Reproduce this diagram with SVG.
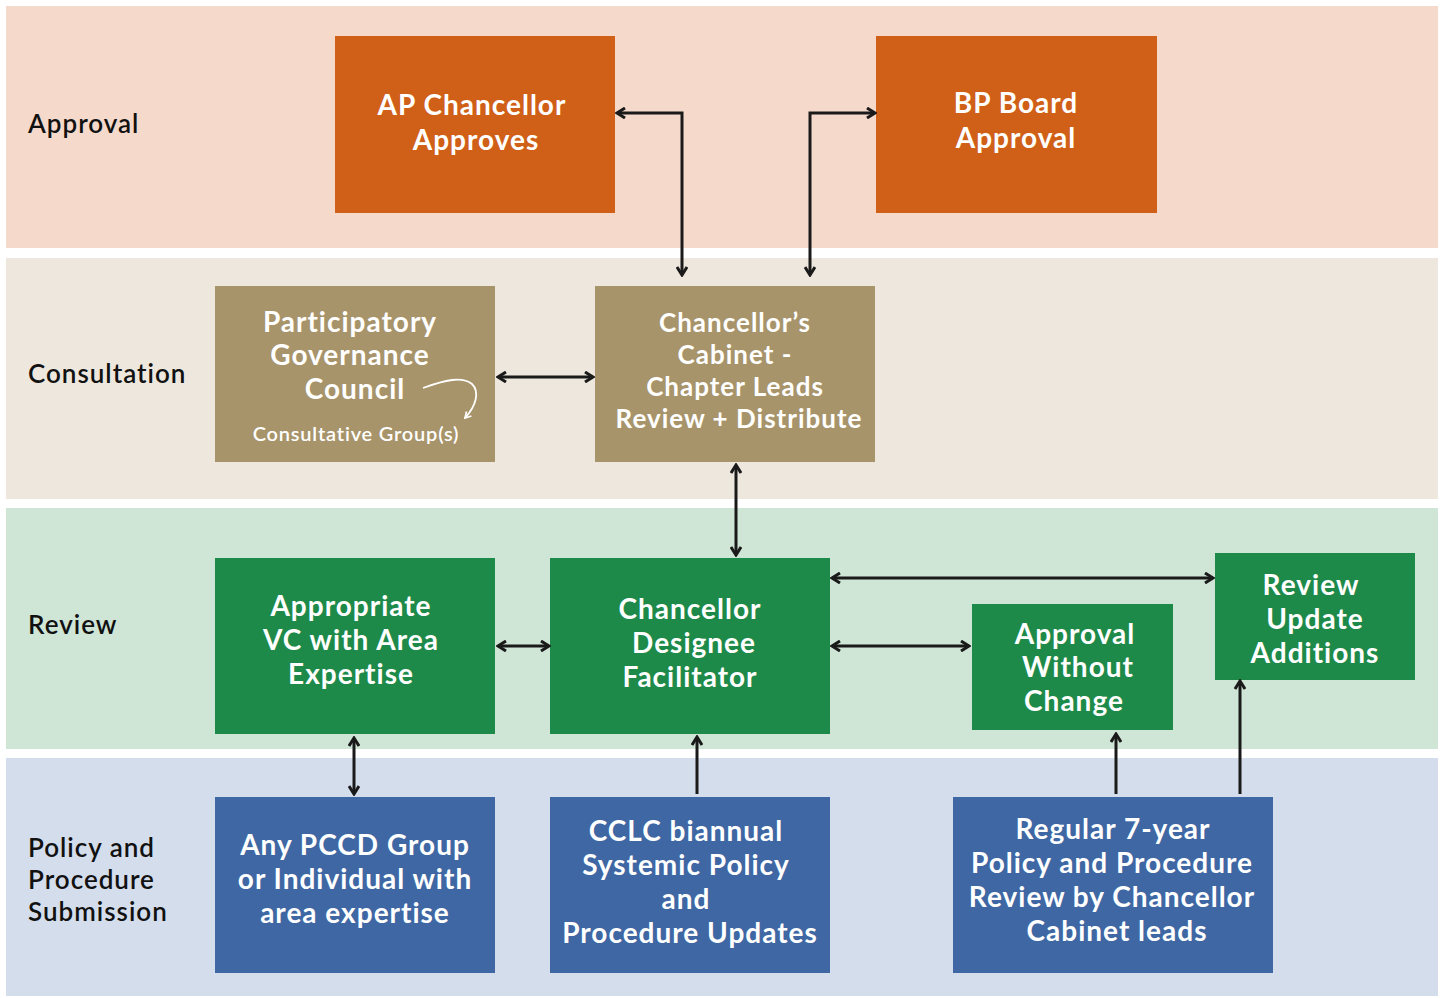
<svg xmlns="http://www.w3.org/2000/svg" width="1442" height="998" viewBox="0 0 1442 998">
<style>
.lane-label{font-family:Lato,"Open Sans",sans-serif;font-size:26px;font-weight:600;fill:#111;letter-spacing:1px}
.t{font-family:Lato,"Open Sans",sans-serif;font-size:28px;font-weight:700;fill:#fff;text-anchor:middle;letter-spacing:1px}
.tc{font-size:26px}
.ts{font-family:Lato,"Open Sans",sans-serif;font-size:20px;font-weight:600;fill:#fff;text-anchor:middle;letter-spacing:0.8px}
.c{fill:none;stroke:#1a1a1a;stroke-width:3}
.orange{fill:#D05F17}
.tan{fill:#A8946A}
.green{fill:#1E8A4A}
.blue{fill:#3E67A4}
</style>
<defs>
<marker id="ah" viewBox="0 0 12 12" refX="10" refY="6" markerWidth="12" markerHeight="12" markerUnits="userSpaceOnUse" orient="auto-start-reverse">
<polyline points="2,1 10,6 2,11" fill="none" stroke="#1a1a1a" stroke-width="3" stroke-linejoin="miter"/>
</marker>
<marker id="ahw" viewBox="0 0 12 12" refX="10" refY="6" markerWidth="10" markerHeight="10" markerUnits="userSpaceOnUse" orient="auto">
<polyline points="3,2 10,6 3,10" fill="none" stroke="#fff" stroke-width="2"/>
</marker>
</defs>
<rect width="1442" height="998" fill="#fff"/>
<g id="lanes">
<rect x="6" y="6" width="1432" height="242" fill="#F5DACB"/>
<rect x="6" y="258" width="1432" height="241" fill="#EDE7DD"/>
<rect x="6" y="508" width="1432" height="241" fill="#CFE5D6"/>
<rect x="6" y="758" width="1432" height="238" fill="#D4DDEC"/>
<text class="lane-label" x="28" y="133">Approval</text>
<text class="lane-label" x="28" y="383">Consultation</text>
<text class="lane-label" x="28" y="634">Review</text>
<text class="lane-label" x="28" y="857">Policy and</text>
<text class="lane-label" x="28" y="889">Procedure</text>
<text class="lane-label" x="28" y="921">Submission</text>
</g>
<g id="node-ap">
<rect class="orange" x="335" y="36" width="280" height="177"/>
<text class="t" x="472" y="115">AP Chancellor</text>
<text class="t" x="476" y="150">Approves</text>
</g>
<g id="node-bp">
<rect class="orange" x="876" y="36" width="281" height="177"/>
<text class="t" x="1016" y="113">BP Board</text>
<text class="t" x="1016" y="148">Approval</text>
</g>
<g id="node-pgc">
<rect class="tan" x="215" y="286" width="280" height="176"/>
<text class="t" x="350" y="332">Participatory</text>
<text class="t" x="350" y="365">Governance</text>
<text class="t" x="355" y="399">Council</text>
<text class="ts" x="356" y="441">Consultative Group(s)</text>
<path d="M423,388 C445,380 462,376 472,384 C480,392 476,406 465,418" fill="none" stroke="#fff" stroke-width="1.8" marker-end="url(#ahw)"/>
</g>
<g id="node-cabinet">
<rect class="tan" x="595" y="286" width="280" height="176"/>
<text class="t tc" x="735" y="332">Chancellor’s</text>
<text class="t tc" x="735" y="364">Cabinet -</text>
<text class="t tc" x="735" y="396">Chapter Leads</text>
<text class="t tc" x="739" y="428">Review + Distribute</text>
</g>
<g id="node-vc">
<rect class="green" x="215" y="558" width="280" height="176"/>
<text class="t" x="351" y="616">Appropriate</text>
<text class="t" x="351" y="650">VC with Area</text>
<text class="t" x="351" y="684">Expertise</text>
</g>
<g id="node-designee">
<rect class="green" x="550" y="558" width="280" height="176"/>
<text class="t" x="690" y="619">Chancellor</text>
<text class="t" x="694" y="653">Designee</text>
<text class="t" x="690" y="687">Facilitator</text>
</g>
<g id="node-awc">
<rect class="green" x="972" y="604" width="201" height="126"/>
<text class="t" x="1075" y="644">Approval</text>
<text class="t" x="1078" y="677">Without</text>
<text class="t" x="1074" y="711">Change</text>
</g>
<g id="node-rua">
<rect class="green" x="1215" y="553" width="200" height="127"/>
<text class="t" x="1311" y="595">Review</text>
<text class="t" x="1315" y="629">Update</text>
<text class="t" x="1315" y="663">Additions</text>
</g>
<g id="node-pccd">
<rect class="blue" x="215" y="797" width="280" height="176"/>
<text class="t" x="355" y="855">Any PCCD Group</text>
<text class="t" x="355" y="889">or Individual with</text>
<text class="t" x="355" y="923">area expertise</text>
</g>
<g id="node-cclc">
<rect class="blue" x="550" y="797" width="280" height="176"/>
<text class="t" x="686" y="841">CCLC biannual</text>
<text class="t" x="686" y="875">Systemic Policy</text>
<text class="t" x="686" y="909">and</text>
<text class="t" x="690" y="943">Procedure Updates</text>
</g>
<g id="node-regular">
<rect class="blue" x="953" y="797" width="320" height="176"/>
<text class="t" x="1113" y="839">Regular 7-year</text>
<text class="t" x="1112" y="873">Policy and Procedure</text>
<text class="t" x="1112" y="907">Review by Chancellor</text>
<text class="t" x="1117" y="941">Cabinet leads</text>
</g>
<g id="connectors">
<polyline class="c" points="682,275 682,113 617,113" marker-start="url(#ah)" marker-end="url(#ah)"/>
<polyline class="c" points="810,275 810,113 875,113" marker-start="url(#ah)" marker-end="url(#ah)"/>
<line class="c" x1="498" y1="377" x2="593" y2="377" marker-start="url(#ah)" marker-end="url(#ah)"/>
<line class="c" x1="736" y1="465" x2="736" y2="555" marker-start="url(#ah)" marker-end="url(#ah)"/>
<line class="c" x1="498" y1="646" x2="549" y2="646" marker-start="url(#ah)" marker-end="url(#ah)"/>
<line class="c" x1="832" y1="646" x2="969" y2="646" marker-start="url(#ah)" marker-end="url(#ah)"/>
<line class="c" x1="832" y1="578" x2="1213" y2="578" marker-start="url(#ah)" marker-end="url(#ah)"/>
<line class="c" x1="354" y1="738" x2="354" y2="794" marker-start="url(#ah)" marker-end="url(#ah)"/>
<line class="c" x1="697" y1="794" x2="697" y2="737" marker-end="url(#ah)"/>
<line class="c" x1="1116" y1="794" x2="1116" y2="734" marker-end="url(#ah)"/>
<line class="c" x1="1240" y1="794" x2="1240" y2="681" marker-end="url(#ah)"/>
</g>
</svg>
